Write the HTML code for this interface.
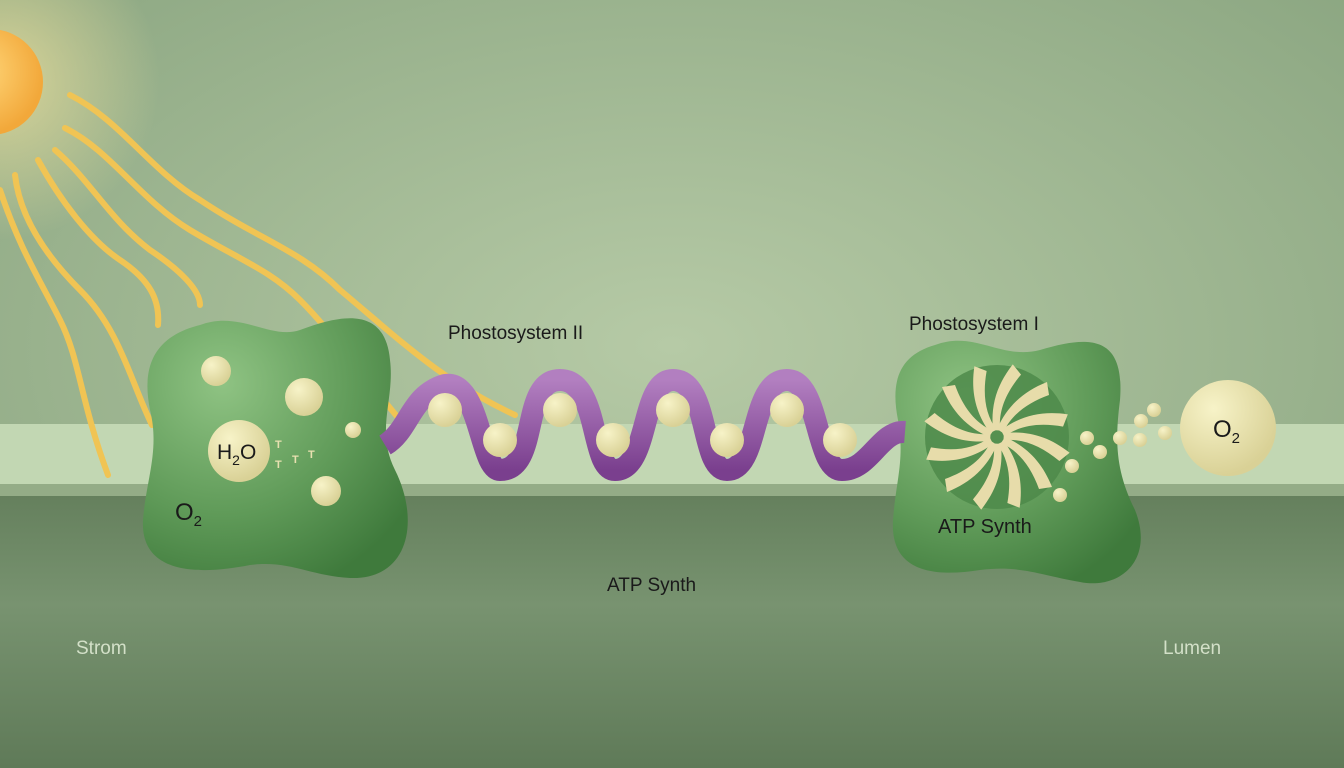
<!DOCTYPE html>
<html><head><meta charset="utf-8"><style>
html,body{margin:0;padding:0;width:1344px;height:768px;overflow:hidden}
svg{display:block}
text{font-family:"Liberation Sans",sans-serif}
</style></head><body>
<svg width="1344" height="768" viewBox="0 0 1344 768">
<defs>
<radialGradient id="bg" cx="0.5" cy="0.45" r="0.7">
<stop offset="0" stop-color="#b6caa6"/><stop offset="1" stop-color="#8ba681"/></radialGradient>
<linearGradient id="low" x1="0" y1="0" x2="0" y2="1">
<stop offset="0" stop-color="#65805d"/><stop offset="0.4" stop-color="#789370"/><stop offset="1" stop-color="#5f7a58"/></linearGradient>
<radialGradient id="sun" cx="0.4" cy="0.4" r="0.6"><stop offset="0" stop-color="#ffd77a"/><stop offset="1" stop-color="#f2a83a"/></radialGradient>
<radialGradient id="glow" cx="0.5" cy="0.5" r="0.5"><stop offset="0" stop-color="#f8e6a0" stop-opacity="0.7"/><stop offset="1" stop-color="#f8e6a0" stop-opacity="0"/></radialGradient>
<radialGradient id="blob" cx="0.3" cy="0.25" r="0.85"><stop offset="0" stop-color="#8fc383"/><stop offset="0.6" stop-color="#5f9a58"/><stop offset="1" stop-color="#3f7a3c"/></radialGradient>
<radialGradient id="ball" cx="0.35" cy="0.3" r="0.7"><stop offset="0" stop-color="#f7f3c8"/><stop offset="1" stop-color="#d9d196"/></radialGradient>
<linearGradient id="pur" x1="0" y1="0" x2="0" y2="1"><stop offset="0" stop-color="#b27fc0"/><stop offset="1" stop-color="#7a3f8e"/></linearGradient>
</defs>
<rect width="1344" height="768" fill="url(#bg)"/>
<rect y="424" width="1344" height="62" fill="#c2d7b3"/>
<rect y="484" width="1344" height="12" fill="#94ac87"/>
<rect y="496" width="1344" height="272" fill="url(#low)"/>
<circle cx="0" cy="80" r="160" fill="url(#glow)"/>
<circle cx="-10" cy="82" r="53" fill="url(#sun)"/>
<g fill="none" stroke="#f0c454" stroke-width="6" stroke-linecap="round">
<path d="M70 95 C120 120 150 170 200 200 C260 240 300 250 340 290 C400 340 440 380 515 415"/>
<path d="M65 128 C110 150 140 200 190 230 C240 260 270 270 300 300 C330 330 350 360 400 420"/>
<path d="M55 150 C90 180 110 220 150 250 C180 270 200 290 200 305"/>
<path d="M38 160 C60 200 90 240 120 260 C150 280 160 300 158 325"/>
<path d="M15 175 C20 220 50 260 80 290 C120 330 130 380 152 425"/>
<path d="M0 190 C20 250 40 280 60 320 C80 360 80 400 108 475"/>
</g>
<path d="M200 325 C240 310 270 340 300 330 C340 315 385 305 390 360 C395 400 375 430 395 470 C420 520 410 580 350 578 C310 576 290 560 250 565 C200 575 140 575 143 520 C146 480 160 450 150 410 C140 360 160 335 200 325Z" fill="url(#blob)"/>
<path d="M935 345 C975 330 1000 360 1040 350 C1090 335 1125 335 1120 400 C1115 440 1115 470 1135 510 C1155 560 1120 590 1080 582 C1040 575 1020 565 980 570 C930 578 890 570 893 520 C896 480 905 460 898 420 C890 380 900 355 935 345Z" fill="url(#blob)"/>
<path d="M385 445 C410 430 410 395 445 385 C480 380 480 470 500 470 C540 470 520 380 560 380 C600 380 590 470 615 470 C650 470 640 380 673 380 C710 380 700 470 727 470 C760 470 750 380 787 380 C820 380 815 470 842 470 C870 470 880 430 905 432" fill="none" stroke="url(#pur)" stroke-width="22"/>
<g fill="url(#ball)">
<circle cx="216" cy="371" r="15"/><circle cx="304" cy="397" r="19"/><circle cx="353" cy="430" r="8"/><circle cx="326" cy="491" r="15"/>
<circle cx="239" cy="451" r="31"/>
<circle cx="445" cy="410" r="17"/><circle cx="500" cy="440" r="17"/><circle cx="560" cy="410" r="17"/><circle cx="613" cy="440" r="17"/><circle cx="673" cy="410" r="17"/><circle cx="727" cy="440" r="17"/><circle cx="787" cy="410" r="17"/><circle cx="840" cy="440" r="17"/>
<circle cx="1228" cy="428" r="48"/>
<circle cx="1087" cy="438" r="7"/><circle cx="1100" cy="452" r="7"/><circle cx="1072" cy="466" r="7"/><circle cx="1060" cy="495" r="7"/><circle cx="1120" cy="438" r="7"/><circle cx="1140" cy="440" r="7"/><circle cx="1141" cy="421" r="7"/><circle cx="1154" cy="410" r="7"/><circle cx="1165" cy="433" r="7"/>
</g>
<g fill="#e8e0b0" font-size="11" font-weight="bold"><text x="275" y="448">T</text><text x="275" y="468">T</text><text x="292" y="463">T</text><text x="308" y="458">T</text></g>
<circle cx="997" cy="437" r="72" fill="#4e8a4a" opacity="0.85"/>
<g transform="translate(997,437)" fill="#e7dcaa">
<g id="bl"><path d="M0 -8 C10 -30 25 -45 50 -55 L52 -42 C30 -34 14 -22 6 -4Z"/></g>
<use href="#bl" transform="rotate(30)"/><use href="#bl" transform="rotate(60)"/><use href="#bl" transform="rotate(90)"/><use href="#bl" transform="rotate(120)"/><use href="#bl" transform="rotate(150)"/><use href="#bl" transform="rotate(180)"/><use href="#bl" transform="rotate(210)"/><use href="#bl" transform="rotate(240)"/><use href="#bl" transform="rotate(270)"/><use href="#bl" transform="rotate(300)"/><use href="#bl" transform="rotate(330)"/>
</g>
<g fill="#1a1a1a">
<text x="217" y="459" font-size="21">H<tspan font-size="14" dy="6">2</tspan><tspan dy="-6">O</tspan></text>
<text x="175" y="520" font-size="24">O<tspan font-size="15" dy="6">2</tspan></text>
<text x="1213" y="437" font-size="24">O<tspan font-size="15" dy="6">2</tspan></text>
<text x="448" y="339" font-size="19">Phostosystem II</text>
<text x="909" y="330" font-size="19">Phostosystem I</text>
<text x="938" y="533" font-size="20">ATP Synth</text>
<text x="607" y="591" font-size="19">ATP Synth</text>
</g>
<g fill="#d3e0c8" font-size="19"><text x="76" y="654">Strom</text><text x="1163" y="654">Lumen</text></g>
</svg>
</body></html>
